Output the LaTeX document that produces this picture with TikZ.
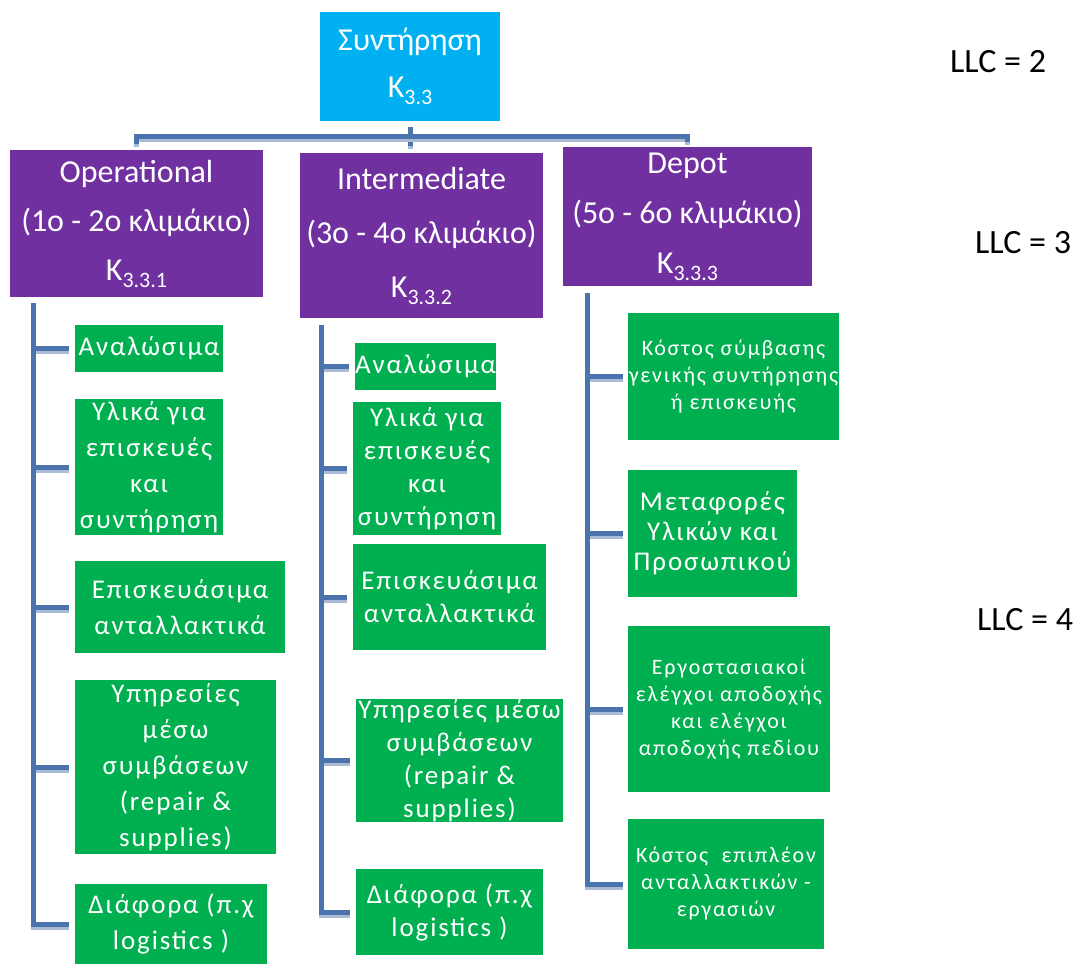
\documentclass[tikz,border=0pt]{standalone}
\usepackage{fontspec}
\setmainfont{Carlito}
\newfontfamily\leafface[LetterSpace=7]{Carlito}
\newfontfamily\depotface[LetterSpace=8]{Carlito}

\definecolor{topcyan}{HTML}{00B0F0}
\definecolor{levelpurple}{HTML}{7030A0}
\definecolor{leafgreen}{HTML}{00B050}
\definecolor{linkblue}{HTML}{4A74AB}
\definecolor{linkshade}{HTML}{A9BBD5}

% cost code with a lowered, smaller index
\newcommand\kcode[1]{K\raisebox{-7pt}{\fontsize{22}{22}\selectfont #1}}

\tikzset{
  sz/.style 2 args={minimum width=#1pt, minimum height=#2pt},
  boxbase/.style={rectangle, inner sep=0pt, align=center, text=white},
  rootbox/.style={boxbase, fill=topcyan, font=\fontsize{32}{47}\selectfont},
  levelbox/.style={boxbase, fill=levelpurple},
  leafbox/.style={boxbase, fill=leafgreen},
  conn/.style={draw=linkblue, line width=5pt,
    preaction={draw=linkshade, line width=5pt, transform canvas={yshift=-3pt}}},
  llc/.style={text=black, inner sep=0pt, anchor=west, font=\fontsize{34}{38}\selectfont},
}

\begin{document}
\begin{tikzpicture}[x=1pt, y=-1pt]
  \fill[white] (0,0) rectangle (1077,964);
  \useasboundingbox (0,0) rectangle (1077,964);

  % root
  \node[rootbox, sz={180}{109}] (root) at (410,66.5) {Συντήρηση\\\kcode{3.3}};

  % maintenance levels
  \node[levelbox, sz={253}{147}, font=\fontsize{32}{49}\selectfont] (op) at (136.5,223.5)
    {Operational\\(1ο - 2ο κλιμάκιο)\\\kcode{3.3.1}};
  \node[levelbox, sz={243}{165}, font=\fontsize{32}{54}\selectfont] (int) at (421.5,235.5)
    {Intermediate\\(3ο - 4ο κλιμάκιο)\\\kcode{3.3.2}};
  \node[levelbox, sz={249}{139}, font=\fontsize{32}{50}\selectfont] (dep) at (687.5,216.5)
    {Depot\\(5ο - 6ο κλιμάκιο)\\\kcode{3.3.3}};

  % operational items
  \begin{scope}[every node/.append style={font=\leafface\fontsize{27}{36}\selectfont}]
    \node[leafbox, sz={148}{47}]  (g1a) at (149,348.5) {Αναλώσιμα};
    \node[leafbox, sz={148}{136}] (g1b) at (149,467) {Υλικά για\\επισκευές\\και\\συντήρηση};
    \node[leafbox, sz={210}{92}]  (g1c) at (180,607) {Επισκευάσιμα\\ανταλλακτικά};
    \node[leafbox, sz={201}{174}] (g1d) at (175.5,767) {Υπηρεσίες\\μέσω\\συμβάσεων\\(repair \&\\supplies)};
    \node[leafbox, sz={192}{80}]  (g1e) at (171,924) {Διάφορα (π.χ\\logistics )};
  \end{scope}

  % intermediate items
  \begin{scope}[every node/.append style={font=\leafface\fontsize{27}{33}\selectfont}]
    \node[leafbox, sz={139}{47}]  (g2a) at (425.5,366.5) {Αναλώσιμα};
    \node[leafbox, sz={148}{133}] (g2b) at (427,468.5) {Υλικά για\\επισκευές\\και\\συντήρηση};
    \node[leafbox, sz={193}{106}] (g2c) at (449.5,597) {Επισκευάσιμα\\ανταλλακτικά};
    \node[leafbox, sz={207}{121}] (g2d) at (459.5,760.5) {Υπηρεσίες μέσω\\συμβάσεων\\(repair \&\\supplies)};
    \node[leafbox, sz={187}{86}]  (g2e) at (449.5,912) {Διάφορα (π.χ\\logistics )};
  \end{scope}

  % depot items
  \begin{scope}[every node/.append style={font=\depotface\fontsize{22}{27}\selectfont}]
    \node[leafbox, sz={211}{127}] (g3a) at (733.5,376.5) {Κόστος σύμβασης\\γενικής συντήρησης\\ή επισκευής};
    \node[leafbox, sz={169}{127}, font=\leafface\fontsize{27}{30}\selectfont] (g3b) at (712.5,533.5)
      {Μεταφορές\\Υλικών και\\Προσωπικού};
    \node[leafbox, sz={202}{166}] (g3c) at (729,709) {Εργοστασιακοί\\ελέγχοι αποδοχής\\και ελέγχοι\\αποδοχής πεδίου};
    \node[leafbox, sz={196}{130}] (g3d) at (726,884) {Κόστος~ επιπλέον\\ανταλλακτικών -\\εργασιών};
  \end{scope}

  % root to levels
  \draw[conn] ([yshift=-6pt]root.south) -- ++(0,9) -| ([yshift=6pt]op.north);
  \coordinate (intin) at (410,146);
  \draw[conn] ([yshift=-6pt]root.south) -- (intin);
  \draw[conn] ([yshift=-6pt]root.south) -- ++(0,9) -| ([yshift=5pt]dep.north);

  % level trunks
  \coordinate (optrunk) at (33,303);
  \coordinate (inttrunk) at (321,325);
  \coordinate (deptrunk) at (587,293);
  \foreach \leaf in {g1a,g1b,g1c,g1d,g1e}
    \draw[conn] (optrunk) |- ([xshift=-6pt]\leaf.west);
  \foreach \leaf in {g2a,g2b,g2c,g2d,g2e}
    \draw[conn] (inttrunk) |- ([xshift=-6pt]\leaf.west);
  \foreach \leaf in {g3a,g3b,g3c,g3d}
    \draw[conn] (deptrunk) |- ([xshift=-5pt]\leaf.west);

  % life-cycle cost levels
  \node[llc] (llc2) at (950,62) {LLC = 2};
  \node[llc] (llc3) at (975,243) {LLC = 3};
  \node[llc] (llc4) at (977,620) {LLC = 4};
\end{tikzpicture}
\end{document}
